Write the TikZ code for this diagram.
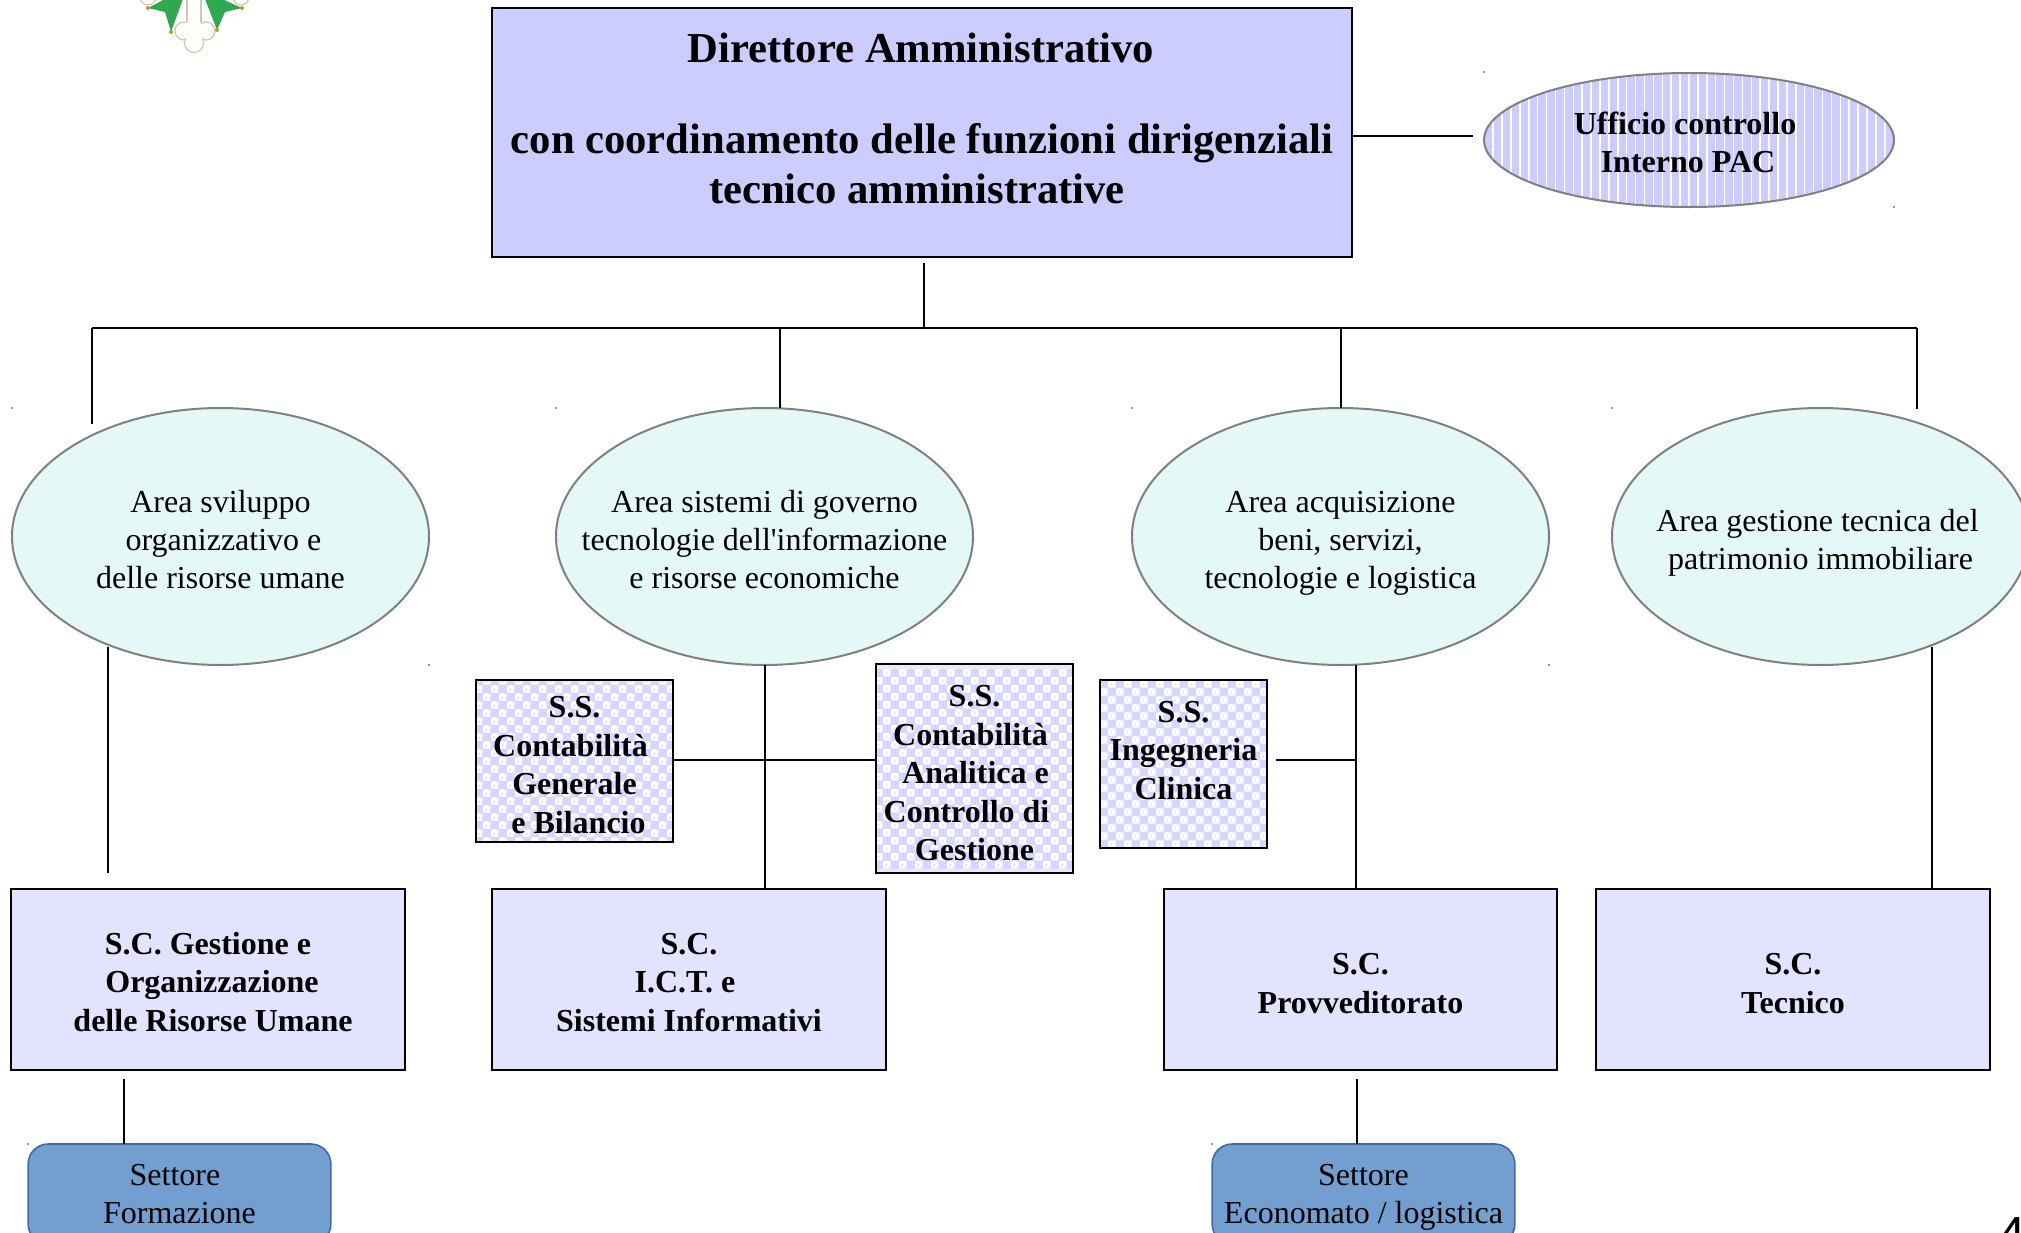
\documentclass[tikz,border=0pt]{standalone}
\usepackage{fontspec}
\setmainfont{Liberation Serif}
\newfontfamily\plainap{Liberation Serif}
\newfontfamily\digitfont{Liberation Sans}
\usetikzlibrary{shapes.geometric}
\definecolor{dirfill}{HTML}{CCCCFF}
\definecolor{areafill}{HTML}{E3F8F7}
\definecolor{scfill}{HTML}{E3E3FF}
\definecolor{setfill}{HTML}{729FD0}
\definecolor{setline}{HTML}{3F6AA8}
\definecolor{ellline}{HTML}{808080}
\definecolor{chk}{HTML}{D6D6FF}
\definecolor{chkb}{HTML}{E8E8FF}
\definecolor{logogreen}{HTML}{2FA84F}
\definecolor{logogold}{HTML}{C9961E}
\definecolor{logoline}{HTML}{CFC9A8}
\newsavebox\tbx
% #1 = downward offset in px of the text block, #2 = rows
\newcommand\tl[2]{\sbox\tbx{\begin{tabular}[b]{@{}c@{}}#2\end{tabular}}%
  \raisebox{\dimexpr -.5\ht\tbx - #1pt*3/4 + 3pt\relax}[0pt][0pt]{\usebox\tbx}}
% #1 = sideways offset of a row in px
\newcommand\LL[2]{\makebox[0pt]{\kern\dimexpr #1pt*3/2\relax #2}}
\tikzset{
  base/.style={inner sep=0pt,outer sep=0pt,text=black},
  body/.style={font=\fontsize{24pt}{28.5pt}\selectfont},
  bodyb/.style={font=\fontsize{24pt}{28.9pt}\bfseries\selectfont},
  dirbox/.style={base,rectangle,draw=black,line width=1.6pt,fill=dirfill,minimum width=645.4pt,minimum height=186.8pt,font=\fontsize{32pt}{37.5pt}\bfseries\selectfont},
  areaell/.style={base,body,ellipse,draw=ellline,line width=1.5pt,fill=areafill,minimum width=312.75pt,minimum height=192.75pt},
  ufficio/.style={base,ellipse,draw=ellline,line width=1.5pt,fill=dirfill,minimum width=307.5pt,minimum height=100.5pt,font=\fontsize{24pt}{28.2pt}\bfseries\selectfont,
    path picture={\foreach \i in {-24,...,24}{\draw[white,line width=1.1pt] (\i*8.9,-80)--(\i*8.9,80);}}},
  ssbox/.style={base,bodyb,rectangle,draw=black,line width=1.3pt,fill=chkb,
    path picture={\foreach \i in {-15,...,15}{\foreach \j in {-12,...,12}{
      \pgfmathparse{int(mod(abs(\i+\j),2))}
      \ifnum\pgfmathresult=0
        \fill[chk] (\i*8-4,\j*8-4) rectangle ++(8,8);
      \else
        \fill[white] (\i*8,\j*8) circle[radius=3.8];
        \fill[chkb] (\i*8,\j*8+.6) circle[radius=1.8];
      \fi}}}},
  scbox/.style={base,bodyb,rectangle,draw=black,line width=1.6pt,fill=scfill,minimum width=295pt,minimum height=136pt},
  setbox/.style={base,body,rectangle,rounded corners=15pt,draw=setline,line width=1.2pt,fill=setfill,minimum width=227pt,minimum height=75pt},
  conn/.style={draw=black,line width=1.5pt},
  speck/.style={fill=black!55},
  pagenum/.style={base,anchor=base west,font=\fontsize{37pt}{40pt}\digitfont\selectfont},
  logoedge/.style={draw=logoline,line width=.9pt},
}
\begin{document}
\begin{tikzpicture}[x=.75pt,y=-.75pt]
\useasboundingbox (0,0) rectangle (2021,1232);
% logo (cut by the top edge)
\filldraw[fill=white,logoedge] (148,-3) circle[radius=8];
\filldraw[fill=white,logoedge] (241,-3) circle[radius=8];
\fill[logogreen] (148,8)--(165,12)--(171,32)--(183,-1)--(165,-1)--cycle;
\fill[logogreen] (242,8)--(225,12)--(217,30)--(205,-1)--(222,-1)--cycle;
\filldraw[fill=white,logoedge] (184,31) circle[radius=9];
\filldraw[fill=white,logoedge] (206,31) circle[radius=9];
\filldraw[fill=white,logoedge] (194,43) circle[radius=9.5];
\fill[white] (187,-1) rectangle (201,34);
\fill[white] (194,33) circle[radius=9.5];
\draw[logoedge] (187,-1)--(187,22);
\draw[logoedge] (201,-1)--(201,22);
\fill[logogold] (148,8) circle[radius=2];
\fill[logogold] (171,32) circle[radius=2];
\fill[logogold] (242,8) circle[radius=2];
\fill[logogold] (217,30) circle[radius=2];
% director and staff office
\node[dirbox] (dir) at (922,132.5) {\tl{-13.5}{\LL{-1}{Direttore Amministrativo}\\[30.75pt]\LL{0}{con coordinamento delle funzioni dirigenziali}\\\LL{-5}{tecnico amministrative}}};
\node[ufficio] (uff) at (1689,140) {\tl{4.4}{\LL{-4}{Ufficio controllo}\\\LL{-1}{Interno PAC}}};
% areas
\node[areaell] (a1) at (220.5,536.5) {\tl{4.9}{\LL{0}{Area sviluppo}\\\LL{3}{organizzativo e}\\\LL{0}{delle risorse umane}}};
\node[areaell] (a2) at (764.5,536.5) {\tl{4.9}{\LL{0}{Area sistemi di governo}\\\LL{0}{tecnologie dell{\plainap'}informazione}\\\LL{0}{e risorse economiche}}};
\node[areaell] (a3) at (1340.5,536.5) {\tl{4.9}{\LL{0}{Area acquisizione}\\\LL{0}{beni, servizi,}\\\LL{0}{tecnologie e logistica}}};
\node[areaell] (a4) at (1820.5,536.5) {\tl{4.9}{\LL{-3}{Area gestione tecnica del}\\\LL{0}{patrimonio immobiliare}}};
% simple structures
\node[ssbox,minimum width=147.75pt,minimum height=121.5pt] (ss1) at (574.5,761) {\tl{4.8}{\LL{0}{S.S.}\\\LL{-4}{Contabilità}\\\LL{0}{Generale}\\\LL{4}{e Bilancio}}};
\node[ssbox,minimum width=147.75pt,minimum height=156.75pt] (ss2) at (974.5,768.5) {\tl{5.6}{\LL{0}{S.S.}\\\LL{-4}{Contabilità}\\\LL{1}{Analitica e}\\\LL{-8}{Controllo di}\\\LL{0}{Gestione}}};
\node[ssbox,minimum width=125.25pt,minimum height=126pt] (ss3) at (1183.5,764) {\tl{-12.8}{\LL{0}{S.S.}\\\LL{0}{Ingegneria}\\\LL{0}{Clinica}}};
% complex structures
\node[scbox] (sc1) at (208,979.5) {\tl{3.9}{\LL{0}{S.C. Gestione e}\\\LL{4}{Organizzazione}\\\LL{5}{delle Risorse Umane}}};
\node[scbox] (sc2) at (689,979.5) {\tl{3.9}{\LL{0}{S.C.}\\\LL{-4}{I.C.T. e}\\\LL{0}{Sistemi Informativi}}};
\node[scbox] (sc3) at (1360.5,979.5) {\tl{4.9}{\LL{0}{S.C.}\\\LL{0}{Provveditorato}}};
\node[scbox] (sc4) at (1793,979.5) {\tl{4.9}{\LL{0}{S.C.}\\\LL{0}{Tecnico}}};
% sectors (cut by the bottom edge)
\node[setbox] (set1) at (179.5,1194) {\tl{0.8}{\LL{-4.5}{Settore}\\\LL{0}{Formazione}}};
\node[setbox] (set2) at (1363.5,1194) {\tl{0.8}{\LL{0}{Settore}\\\LL{0}{Economato / logistica}}};
\node[pagenum] (pg) at (1998,1251) {4};
% free ends of the connectors
\coordinate (dirdrop) at (924,263);
\coordinate (busC) at (924,328);
\coordinate (busL) at (92,328);
\coordinate (busR) at (1917,328);
\coordinate (b2) at (780,328);
\coordinate (b3) at (1341,328);
\coordinate (a1top) at (92,424);
\coordinate (a4top) at (1917,409);
\coordinate (uffend) at (1473,136);
\coordinate (dirout) at (1352,136);
\coordinate (a1low) at (108,647);
\coordinate (sc1up) at (108,873);
\coordinate (a3low) at (1356,665);
\coordinate (a4low) at (1932,647);
\coordinate (ss3out) at (1276,760);
\coordinate (v3j) at (1356,760);
\coordinate (sc1drop) at (124,1079);
\coordinate (sc3drop) at (1357,1079);
% connectors
\draw[conn] (dirout) -- (uffend);
\draw[conn] (dirdrop) -- (busC);
\draw[conn] (busL) -- (busR);
\draw[conn] (busL) -- (a1top);
\draw[conn] (b2) -- (b2 |- a2.north);
\draw[conn] (b3) -- (b3 |- a3.north);
\draw[conn] (busR) -- (a4top);
\draw[conn] (a1low) -- (sc1up);
\draw[conn] (a2.south) -- (sc2.north -| a2.south);
\draw[conn] (ss1.east |- 0,760) -- (ss2.west |- 0,760);
\draw[conn] (a3low) -- (sc3.north -| a3low);
\draw[conn] (ss3out) -- (v3j);
\draw[conn] (a4low) -- (sc4.north -| a4low);
\draw[conn] (sc1drop) -- (sc1drop |- set1.north);
\draw[conn] (sc3drop) -- (sc3drop |- set2.north);
% selection specks
\foreach \p in {(1484,72),(1894,207),(12,408),(429,665),(556,408),(1132,408),(1549,665),(1612,408),(28,1144),(1212,1144)}{
  \fill[speck] \p circle[radius=1.2];}
\end{tikzpicture}
\end{document}
